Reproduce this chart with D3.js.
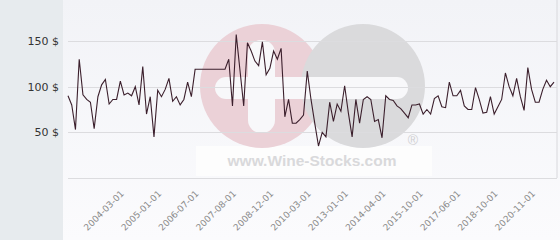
<!DOCTYPE html>
<html>
<head>
<meta charset="utf-8">
<script src="https://cdn.jsdelivr.net/npm/d3@7"></script>
<style>
  body { margin: 0; background: #fff; }
  svg { display: block; font-family: "DejaVu Sans", sans-serif; }
</style>
</head>
<body>
<div class="canvas"></div>
<script>
// Data
const prices = [
  90, 80, 53, 130, 91, 86, 83, 54, 89, 102,
  108, 81, 86, 86, 106, 91, 93, 90, 100, 80,
  122, 70, 89, 45, 96, 89, 97, 109, 84, 89,
  80, 86, 105, 89, 119, 119, 119, 119, 119, 119,
  119, 119, 119, 130, 79, 157, 118, 79, 148, 139,
  128, 123, 149, 113, 120, 139, 130, 142, 67, 86,
  60, 60, 64, 69, 117, 86, 60, 35, 50, 45,
  83, 62, 81, 73, 101, 71, 45, 86, 60, 86,
  89, 86, 62, 64, 44, 90, 86, 85, 79, 76,
  71, 66, 80, 80, 81, 70, 75, 70, 87, 90,
  78, 77, 105, 90, 90, 96, 79, 75, 75, 99,
  86, 71, 72, 89, 70, 78, 86, 115, 100, 90,
  109, 89, 74, 121, 97, 83, 83, 97, 107, 100,
  105
];
const tickLabels = [
  '2004-03-01', '2005-01-01', '2006-07-01', '2007-08-01', '2008-12-01', '2010-03-01',
  '2013-01-01', '2014-04-01', '2015-10-01', '2017-06-01', '2018-10-01', '2020-11-01'
];
const tickFirst = 14;
const tickStep = 10;
const yTicks = [50, 100, 150];
const yGrid = [0, 50, 100, 150];

// Setup dimensions
const dims = { width: 560, height: 240 };
const plot = { left: 63, x0: 68, x1: 554, right: 557, bottom: 178, top: 41 };

const svg = d3.select('.canvas')
  .append('svg')
  .attr('width', dims.width)
  .attr('height', dims.height);

const defs = svg.append('defs');
const grad = defs.append('linearGradient')
  .attr('id', 'bg').attr('x1', 0).attr('y1', 0).attr('x2', 0).attr('y2', 1);
grad.append('stop').attr('offset', '0%').attr('stop-color', '#f2f3f7');
grad.append('stop').attr('offset', '100%').attr('stop-color', '#fbfbfd');

// backgrounds
svg.append('rect')
  .attr('width', plot.left).attr('height', dims.height)
  .attr('fill', '#e7ebee');
svg.append('rect')
  .attr('x', plot.left).attr('width', dims.width - plot.left).attr('height', dims.height)
  .attr('fill', 'url(#bg)');
svg.append('line')
  .attr('x1', plot.right).attr('x2', plot.right)
  .attr('y1', 0).attr('y2', plot.bottom)
  .attr('stroke', '#d8d8dc');

// watermark
const wm = svg.append('g').attr('class', 'watermark');
wm.append('rect')
  .attr('x', 196).attr('y', 146).attr('width', 236).attr('height', 30)
  .attr('fill', '#fdfdfd');
wm.append('circle')
  .attr('cx', 262).attr('cy', 86).attr('r', 62)
  .attr('fill', '#ebd1d7');
wm.append('circle')
  .attr('cx', 363).attr('cy', 86).attr('r', 62)
  .attr('fill', '#dadadc');
// white cutouts
wm.append('rect')
  .attr('x', 215).attr('y', 77).attr('width', 193).attr('height', 22).attr('rx', 11)
  .attr('fill', '#f8f8fa');
wm.append('rect')
  .attr('x', 248).attr('y', 40).attr('width', 27).attr('height', 93).attr('rx', 13)
  .attr('fill', '#f8f8fa');
wm.append('text')
  .attr('x', 312).attr('y', 166)
  .attr('text-anchor', 'middle')
  .attr('font-family', 'Liberation Sans, Arial, sans-serif')
  .attr('font-weight', 'bold')
  .attr('font-size', 15.5)
  .attr('fill', '#d9d9db')
  .text('www.Wine-Stocks.com');
wm.append('text')
  .attr('x', 413).attr('y', 145)
  .attr('text-anchor', 'middle')
  .attr('font-family', 'Liberation Sans, Arial, sans-serif')
  .attr('font-size', 14)
  .attr('fill', '#d0d0d2')
  .text('®');

// scales
const x = d3.scaleLinear()
  .domain([0, prices.length - 1])
  .range([plot.x0, plot.x1]);

const y = d3.scaleLinear()
  .domain([0, 150])
  .range([plot.bottom, plot.top]);

// grid
svg.append('g')
  .selectAll('line')
  .data(yGrid)
  .enter().append('line')
    .attr('x1', plot.x0).attr('x2', plot.right)
    .attr('y1', d => Math.round(y(d)) + 0.5)
    .attr('y2', d => Math.round(y(d)) + 0.5)
    .attr('stroke', '#dcdcdf')
    .attr('stroke-width', 1);

// y labels
svg.append('g')
  .selectAll('text')
  .data(yTicks)
  .enter().append('text')
    .attr('x', 59)
    .attr('y', d => y(d))
    .attr('dy', '0.35em')
    .attr('text-anchor', 'end')
    .attr('font-size', 11)
    .attr('fill', '#333')
    .text(d => `${d} $`);

// x labels
svg.append('g')
  .selectAll('text')
  .data(tickLabels)
  .enter().append('text')
    .attr('transform', (d, i) => `translate(${x(tickFirst + i * tickStep) + 2}, 192) rotate(-45)`)
    .attr('dy', '0.35em')
    .attr('text-anchor', 'end')
    .attr('font-size', 9)
    .attr('fill', '#8a8a8a')
    .text(d => d);

// price line
const line = d3.line()
  .x((d, i) => x(i))
  .y(d => y(d));

svg.append('path')
  .datum(prices)
  .attr('d', line)
  .attr('fill', 'none')
  .attr('stroke', '#3b1f2c')
  .attr('stroke-width', 1.1)
  .attr('stroke-linejoin', 'miter');
</script>
</body>
</html>
